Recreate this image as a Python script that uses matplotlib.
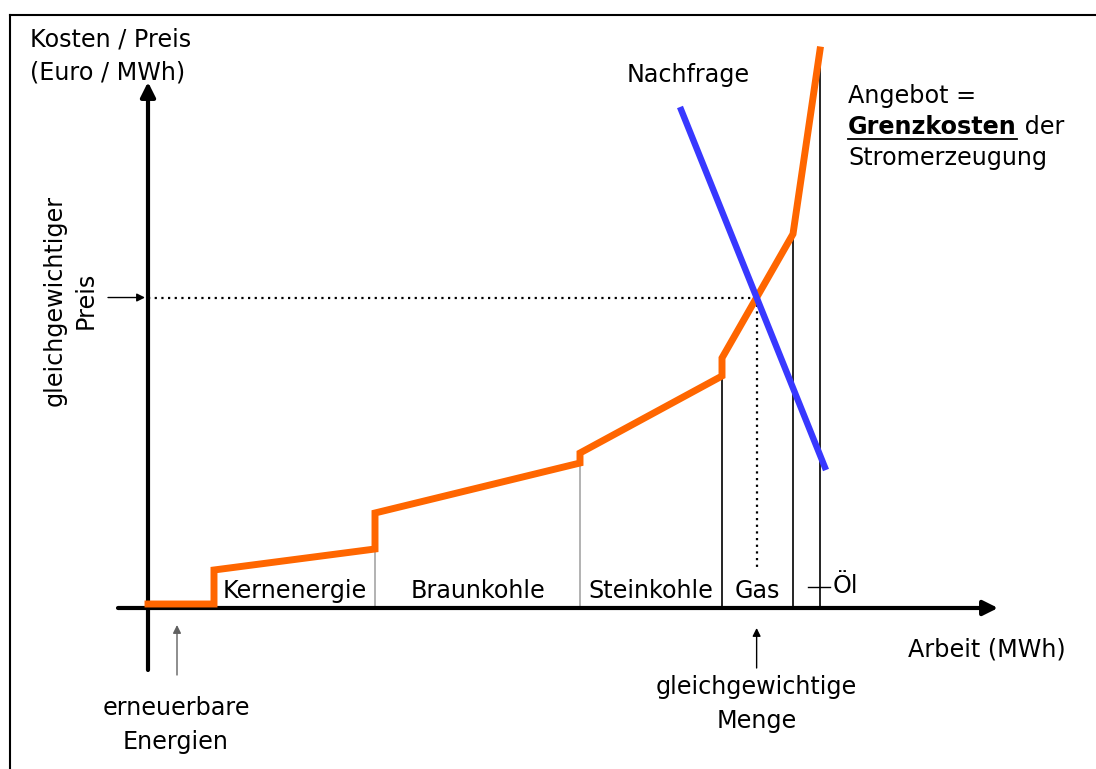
"""
Merit-Order: Angebot (Grenzkosten) und Nachfrage am Strommarkt.
"""

import matplotlib
matplotlib.use("Agg")
import matplotlib.pyplot as plt
from matplotlib.lines import Line2D

# Kraftwerkstypen in Merit-Order-Reihenfolge
technologien = ["erneuerbar", "Kernenergie", "Braunkohle", "Steinkohle", "Gas", "Öl"]
# kumulierte Arbeit an den Segmentgrenzen (willkürliche Einheiten)
grenzen = [0.0, 6.6, 22.7, 43.2, 57.4, 64.5, 67.2]
# Grenzkosten am Anfang / Ende jedes Segments
kosten_start = [0.4, 3.8, 9.5, 15.5, 25.0, 37.4]
kosten_ende = [0.4, 5.9, 14.5, 23.2, 37.4, 55.8]
# Trennlinie am Ende jedes Segments (None = keine)
trenn_farben = [None, "#a6a6a6", "#a6a6a6", "black", "black", "black"]

# Nachfragekurve (zwei Punkte)
nachfrage_x = [53.2, 67.8]
nachfrage_y = [50.1, 13.8]

ORANGE = "#ff6600"
BLAU = "#3838ff"
FS = 17.2

fig = plt.figure(figsize=(10.96, 7.69), dpi=100)
ax = fig.add_axes([0, 0, 1, 1])
ax.set_xlim(-14.8, 94.8)
ax.set_ylim(-16.1, 60.8)
ax.axis("off")

# Rahmen (nur oben und links)
fig.add_artist(Line2D([0.0091, 1.0], [0.9805, 0.9805], color="black", lw=1.5))
fig.add_artist(Line2D([0.0091, 0.0091], [0.0, 0.9805], color="black", lw=1.5))

# Achsen mit Pfeilen
pfeil = dict(arrowstyle="-|>", lw=3, color="black", mutation_scale=22, shrinkA=0, shrinkB=0)
ax.annotate("", xy=(0, 52.6), xytext=(0, -6.2), arrowprops=pfeil)
ax.annotate("", xy=(85.0, 0), xytext=(-3.0, 0), arrowprops=pfeil)

# Trennlinien zwischen den Kraftwerkstypen
for i, farbe in enumerate(trenn_farben):
    if farbe is None:
        continue
    ax.plot([grenzen[i + 1]] * 2, [0, kosten_ende[i]], color=farbe, lw=1.2, zorder=2)

# Angebotskurve
kurve_x, kurve_y = [], []
for i in range(len(technologien)):
    kurve_x += [grenzen[i], grenzen[i + 1]]
    kurve_y += [kosten_start[i], kosten_ende[i]]
ax.plot(kurve_x, kurve_y, color=ORANGE, lw=5, solid_joinstyle="miter", zorder=4)

# Nachfragekurve
ax.plot(nachfrage_x, nachfrage_y, color=BLAU, lw=4.6, solid_capstyle="butt", zorder=5)

# Gleichgewicht: Schnitt Nachfrage mit Gas-Segment
g = technologien.index("Gas")
m_a = (kosten_ende[g] - kosten_start[g]) / (grenzen[g + 1] - grenzen[g])
m_n = (nachfrage_y[1] - nachfrage_y[0]) / (nachfrage_x[1] - nachfrage_x[0])
gg_x = (nachfrage_y[0] - m_n * nachfrage_x[0] - kosten_start[g] + m_a * grenzen[g]) / (m_a - m_n)
gg_y = kosten_start[g] + m_a * (gg_x - grenzen[g])

ax.plot([0, gg_x], [gg_y, gg_y], color="black", lw=1.6, ls=(0, (1, 2)), zorder=3)
ax.plot([gg_x, gg_x], [gg_y, 4.0], color="black", lw=1.6, ls=(0, (1, 2)), zorder=3)

# kleine Pfeile
duenn = dict(arrowstyle="-|>", lw=1.0, color="black", mutation_scale=12, shrinkA=0, shrinkB=0)
ax.annotate("", xy=(-0.3, gg_y), xytext=(-4.0, gg_y), arrowprops=duenn)
ax.annotate("", xy=(gg_x, -2.0), xytext=(gg_x, -6.0), arrowprops=duenn)
ax.annotate("", xy=(2.9, -1.7), xytext=(2.9, -6.7), arrowprops=dict(duenn, color="#606060"))

# Beschriftung der Segmente
for i in range(1, len(technologien) - 1):
    mitte = (grenzen[i] + grenzen[i + 1]) / 2
    ax.text(mitte, 1.7, technologien[i], ha="center", va="center", fontsize=FS)
ax.plot([66.0, 68.2], [2.1, 2.1], color="black", lw=1.0)
ax.text(68.5, 2.2, technologien[-1], ha="left", va="center", fontsize=FS)

# Texte
ax.text(-11.8, 55.2, "Kosten / Preis\n(Euro / MWh)", ha="left", va="center",
        fontsize=FS, linespacing=1.45)
ax.text(-7.8, 30.8, "gleichgewichtiger\nPreis", ha="center", va="center",
        rotation=90, fontsize=FS, linespacing=1.35)
ax.text(54.0, 53.3, "Nachfrage", ha="center", va="center", fontsize=FS)
ax.text(70.0, 51.2, "Angebot =", ha="left", va="center", fontsize=FS)
fett = ax.text(70.0, 48.1, "Grenzkosten", ha="left", va="center", fontsize=FS,
               fontweight="bold")
ax.text(70.0, 45.0, "Stromerzeugung", ha="left", va="center", fontsize=FS)
ax.text(76.0, -4.2, "Arbeit (MWh)", ha="left", va="center", fontsize=FS)
ax.text(gg_x, -9.6, "gleichgewichtige\nMenge", ha="center", va="center",
        fontsize=FS, linespacing=1.5)
ax.text(2.8, -11.7, "erneuerbare\nEnergien", ha="center", va="center",
        fontsize=FS, linespacing=1.5)

# Unterstreichung und "der" hinter dem fetten Wort
fig.canvas.draw()
bb = fett.get_window_extent().transformed(ax.transData.inverted())
ax.plot([bb.x0, bb.x1], [46.9, 46.9], color="black", lw=1.3)
ax.text(bb.x1, 48.1, " der", ha="left", va="center", fontsize=FS)

fig.savefig("out.png", dpi=100)
